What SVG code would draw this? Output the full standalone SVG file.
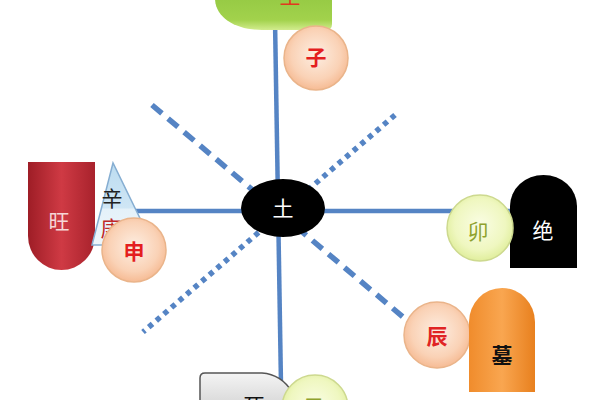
<svg xmlns="http://www.w3.org/2000/svg" width="600" height="400" viewBox="0 0 600 400">
<defs>
<style>
.ln{stroke:#5584c4;stroke-width:4.5;fill:none}
.dash{stroke:#5584c4;stroke-width:5.5;fill:none;stroke-dasharray:13 8}
.dot{stroke:#5584c4;stroke-width:5.5;fill:none;stroke-dasharray:5 5}
.t{font-family:"Noto Sans CJK SC","Noto Sans CJK JP",sans-serif;font-size:21px;text-anchor:middle}
.peach{fill:url(#gPeach);stroke:#eab48a;stroke-width:1.5}
.lime{fill:url(#gLime);stroke:#cdd98f;stroke-width:1.5}
</style>
<radialGradient id="gPeach" cx="0.5" cy="0.45" r="0.55">
<stop offset="0" stop-color="#fdeee2"/><stop offset="0.7" stop-color="#fad2b6"/><stop offset="1" stop-color="#f6bb94"/>
</radialGradient>
<radialGradient id="gLime" cx="0.5" cy="0.45" r="0.55">
<stop offset="0" stop-color="#fafde4"/><stop offset="0.7" stop-color="#eff7c0"/><stop offset="1" stop-color="#e0ee9c"/>
</radialGradient>
<linearGradient id="gRed" x1="0" y1="0" x2="1" y2="0">
<stop offset="0" stop-color="#9e1d26"/><stop offset="0.5" stop-color="#cf3a44"/><stop offset="1" stop-color="#a8222c"/>
</linearGradient>
<linearGradient id="gOrange" x1="0" y1="0" x2="1" y2="0">
<stop offset="0" stop-color="#f08c2c"/><stop offset="0.5" stop-color="#f9a650"/><stop offset="1" stop-color="#e8801e"/>
</linearGradient>
<linearGradient id="gGreen" x1="0" y1="0" x2="0" y2="1">
<stop offset="0" stop-color="#8cc43e"/><stop offset="0.8" stop-color="#a2d24c"/><stop offset="1" stop-color="#d2ec8e"/>
</linearGradient>
<linearGradient id="gGray" x1="0" y1="0" x2="0" y2="1">
<stop offset="0" stop-color="#f4f4f4"/><stop offset="1" stop-color="#d8d8d8"/>
</linearGradient>
<linearGradient id="gBlue" x1="0" y1="0" x2="0" y2="1">
<stop offset="0" stop-color="#bcdcf0"/><stop offset="0.55" stop-color="#cfe6f5"/><stop offset="0.56" stop-color="#e4f1f9"/><stop offset="1" stop-color="#eef6fb"/>
</linearGradient>
</defs>
<g id="connectors">
<line class="ln" x1="275" y1="20" x2="281" y2="385"/>
<line class="ln" x1="135" y1="211" x2="512" y2="211"/>
<line class="dash" x1="152" y1="105" x2="403" y2="317"/>
<line class="dot" x1="395" y1="115" x2="143" y2="332"/>
</g>
<g id="center">
<ellipse cx="283" cy="208" rx="42" ry="29" fill="#000"/>
<text class="t" x="283" y="216" fill="#fff" font-size="22">土</text>
</g>
<g id="top-green">
<path d="M215,-20 L332,-20 L332,24 Q332,30 326,30 L262,30 C236,30 215,18 215,-2 Z" fill="url(#gGreen)"/>
<text class="t" x="290" y="3" fill="#e03a1e" font-size="22">生</text>
</g>
<g id="zi">
<circle class="peach" cx="316" cy="58" r="32"/>
<text class="t" x="316" y="65" fill="#e41e1e" font-weight="bold">子</text>
</g>
<g id="wang">
<path d="M28,162 L95,162 L95,236 A33.5,34 0 0 1 28,236 Z" fill="url(#gRed)"/>
<text class="t" x="59" y="229" fill="#f6d6d6">旺</text>
</g>
<g id="xin-geng">
<polygon points="113,163 92,245 153,245" fill="url(#gBlue)" stroke="#86aed2" stroke-width="1.5"/>
<text class="t" x="112" y="206" fill="#222">辛</text>
<text class="t" x="111" y="236" fill="#c0282a">庚</text>
</g>
<g id="shen">
<circle class="peach" cx="134" cy="250" r="32"/>
<text class="t" x="134" y="259" fill="#e41e1e" font-weight="bold">申</text>
</g>
<g id="jue">
<path d="M510,268 L510,206 A33.5,31 0 0 1 577,206 L577,268 Z" fill="#000"/>
<text class="t" x="543" y="238" fill="#fff">绝</text>
</g>
<g id="mao">
<circle class="lime" cx="480" cy="228" r="33"/>
<text class="t" x="478" y="239" fill="#8fa22e">卯</text>
</g>
<g id="chen">
<circle class="peach" cx="437" cy="335" r="33"/>
<text class="t" x="437" y="344" fill="#e02424" font-weight="bold">辰</text>
</g>
<g id="mu">
<path d="M469,392 L469,322 A33,34 0 0 1 535,322 L535,392 Z" fill="url(#gOrange)"/>
<text class="t" x="502" y="363" fill="#111" font-weight="bold">墓</text>
</g>
<g id="si">
<path d="M200,405 L200,378 Q200,373 205,373 L262,373 C276,374 286,382 292,392 L292,405 Z" fill="url(#gGray)" stroke="#555" stroke-width="1.5"/>
<text class="t" x="254" y="413" fill="#111" font-size="22">死</text>
</g>
<g id="si2">
<circle class="lime" cx="315" cy="408" r="33"/>
<text class="t" x="314" y="415" fill="#8fa22e" font-size="22">巳</text>
</g>
</svg>
